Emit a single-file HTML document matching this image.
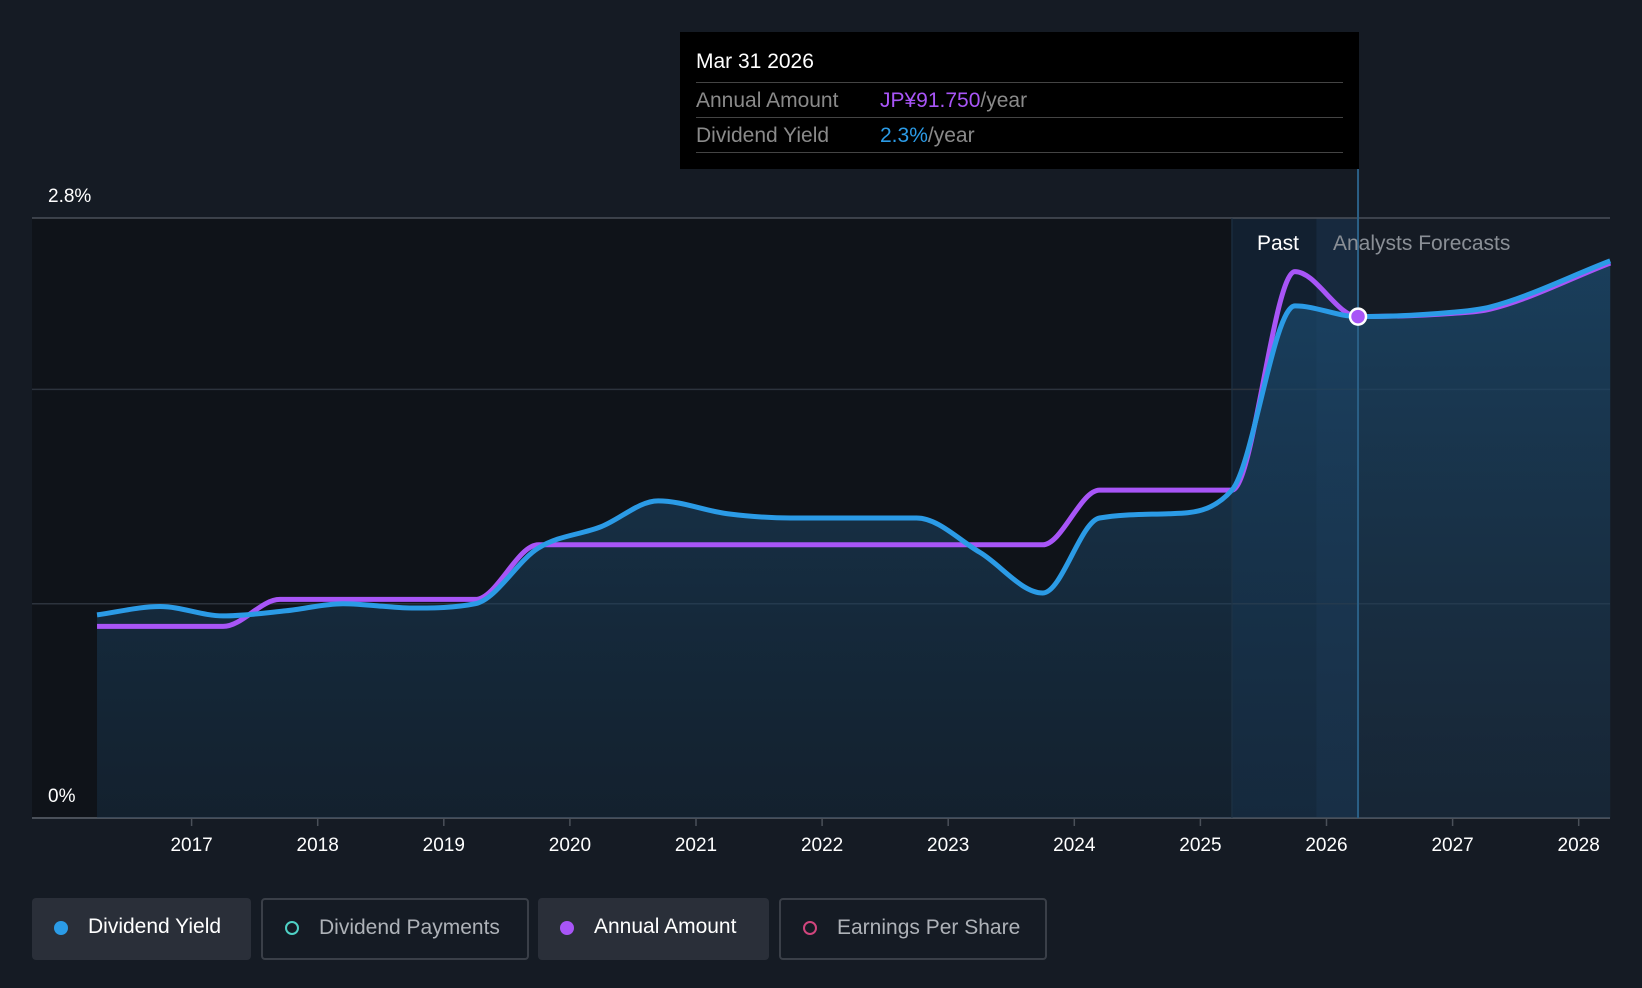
<!DOCTYPE html>
<html><head><meta charset="utf-8"><style>
html,body{margin:0;padding:0;background:#151b24;width:1642px;height:988px;overflow:hidden;font-family:"Liberation Sans",sans-serif}
svg{position:absolute;left:0;top:0}
.tip{position:absolute;left:680px;top:32px;width:679px;height:137px;background:#000;box-sizing:border-box;padding:0 16px}
.tip .t{color:#fff;font-size:21px;margin-top:18px;height:32px}
.tip .r{border-top:1px solid #444;height:34px;line-height:36px;font-size:21px;color:#8a8a8a}
.tip .r span.l{display:inline-block;width:184px}
.leg{position:absolute;top:898px;height:62px;box-sizing:border-box;border-radius:4px;font-size:21px;line-height:58px;padding-left:56px}
.leg.b{line-height:56px}
.leg i{position:absolute;left:22px;top:23px;width:14px;height:14px;border-radius:50%;box-sizing:border-box}
.leg.b i{top:21px}
</style></head><body>
<svg id="c" width="1642" height="988"></svg>
<div class="tip">
<div class="t">Mar 31 2026</div>
<div class="r"><span class="l">Annual Amount</span><span style="color:#a855f7">JP¥91.750</span>/year</div>
<div class="r"><span class="l">Dividend Yield</span><span style="color:#2b9be6">2.3%</span>/year</div>
<div class="r" style="height:0"></div>
</div>
<div class="leg" style="left:32px;width:219px;background:#2a2f39;color:#fff"><i style="background:#2b9be6"></i>Dividend Yield</div>
<div class="leg b" style="left:261px;width:268px;border:2px solid #3a3f48;color:#aeb2b8"><i style="border:2px solid #4fd1c5"></i>Dividend Payments</div>
<div class="leg" style="left:538px;width:231px;background:#2a2f39;color:#fff"><i style="background:#a855f7"></i>Annual Amount</div>
<div class="leg b" style="left:779px;width:268px;border:2px solid #3a3f48;color:#aeb2b8"><i style="border:2px solid #d0457d"></i>Earnings Per Share</div>
<script>
const yieldX=[2016.25,2016.75,2017.25,2017.75,2018.2,2018.75,2019.25,2019.75,2020.25,2020.7,2021.25,2021.75,2022.75,2023.25,2023.75,2024.2,2024.75,2025.25,2025.75,2026.25,2027,2027.3,2028.25];
const yieldV=[0.948,0.987,0.943,0.967,1.0,0.98,1.0,1.26,1.36,1.48,1.42,1.40,1.40,1.24,1.05,1.40,1.42,1.53,2.39,2.34,2.36,2.385,2.60];
const amountX=[2016.25,2017.25,2017.7,2019.25,2019.75,2023.75,2024.2,2025.25,2025.75,2026.25,2027,2027.3,2028.25];
const amountV=[0.894,0.894,1.02,1.02,1.275,1.275,1.53,1.53,2.55,2.34,2.355,2.375,2.59];
const yearTicks=[2017,2018,2019,2020,2021,2022,2023,2024,2025,2026,2027,2028];
const yTicks=[0,1,2,2.8];
const yLabels=["0%","","","2.8%"];
const X0=2016.25,X1=2028.25,PL=96,PR=1610,PT=218,PB=818;
const sx=v=>191.6+(v-2017)*126.1;
const sy=v=>PB-(v/2.8)*(PB-PT);
const NS='http://www.w3.org/2000/svg';
const svg=document.getElementById('c');
function mk(t,a,p){const e=document.createElementNS(NS,t);for(const k in a)e.setAttribute(k,a[k]);(p||svg).appendChild(e);return e;}
const defs=mk('defs',{});
const g=mk('linearGradient',{id:'fg',x1:0,y1:0,x2:0,y2:1},defs);
mk('stop',{offset:0,'stop-color':'#1b4a6e','stop-opacity':0.75},g);
mk('stop',{offset:1,'stop-color':'#1b3a55','stop-opacity':0.35},g);
function path(xs,vs){
  const px=xs.map(sx),py=vs.map(sy),n=px.length;
  const d=[],m=new Array(n);
  for(let i=0;i<n-1;i++)d.push((py[i+1]-py[i])/(px[i+1]-px[i]));
  m[0]=d[0];m[n-1]=d[n-2];
  for(let i=1;i<n-1;i++){m[i]=(d[i-1]*d[i]<=0)?0:(d[i-1]+d[i])/2;}
  for(let i=0;i<n-1;i++){if(d[i]===0){m[i]=0;m[i+1]=0;continue;}
    const a=m[i]/d[i],b=m[i+1]/d[i],s=a*a+b*b;if(s>9){const t=3/Math.sqrt(s);m[i]=t*a*d[i];m[i+1]=t*b*d[i];}}
  let p='M'+px[0]+','+py[0];
  for(let i=0;i<n-1;i++){const h=(px[i+1]-px[i])/3;
    p+=' C'+(px[i]+h)+','+(py[i]+m[i]*h)+' '+(px[i+1]-h)+','+(py[i+1]-m[i+1]*h)+' '+px[i+1]+','+py[i+1];}
  return p;}
let r=mk('rect',{x:32,y:PT,width:sx(2025.25)-32,height:PB-PT,fill:'#0f1319'});

r=mk('rect',{x:sx(2025.25),y:PT,width:sx(2026.25)-sx(2025.25),height:PB-PT,fill:'#122030'});

r=mk('rect',{x:sx(2025.92),y:PT,width:sx(2026.25)-sx(2025.92),height:PB-PT,fill:'#1a3048','opacity':0.6});

yTicks.forEach((t,i)=>{const l=mk('line',{x1:32,x2:PR,y1:sy(t),y2:sy(t),stroke:i==0||i==3?'#4a5059':'#2c333d','stroke-width':i==0?2:1.5});

if(yLabels[i]){const tx=mk('text',{x:48,y:sy(t)-16,fill:'#fff','font-size':19,'font-family':'Liberation Sans'});tx.textContent=yLabels[i];
}});
const ad=path(yieldX,yieldV)+' L'+sx(X1)+','+PB+' L'+sx(X0)+','+PB+' Z';
const area=mk('path',{d:ad,fill:'url(#fg)'});

const vl=mk('line',{x1:sx(2026.25),x2:sx(2026.25),y1:169,y2:PB,stroke:'#2a5f86','stroke-width':2});

const bl=mk('line',{x1:sx(2025.25),x2:sx(2025.25),y1:PT,y2:PB,stroke:'#1f3447','stroke-width':1});

const pa=mk('path',{d:path(amountX,amountV),fill:'none',stroke:'#a855f7','stroke-width':5});

const py=mk('path',{d:path(yieldX,yieldV),fill:'none',stroke:'#2b9be6','stroke-width':5});

const dot=mk('circle',{cx:sx(2026.25),cy:sy(2.34),r:8,fill:'#a855f7',stroke:'#fff','stroke-width':2.5});

yearTicks.forEach(y=>{const l=mk('line',{x1:sx(y),x2:sx(y),y1:PB,y2:PB+8,stroke:'#4a5059','stroke-width':1.5});

const t=mk('text',{x:sx(y),y:851,fill:'#fff','font-size':19,'text-anchor':'middle','font-family':'Liberation Sans'});t.textContent=y;
});
let t=mk('text',{x:1278,y:250,fill:'#fff','font-size':21,'text-anchor':'middle','font-family':'Liberation Sans'});t.textContent='Past';

t=mk('text',{x:1333,y:250,fill:'#8a8f96','font-size':21,'font-family':'Liberation Sans'});t.textContent='Analysts Forecasts';

</script>
</body></html>
